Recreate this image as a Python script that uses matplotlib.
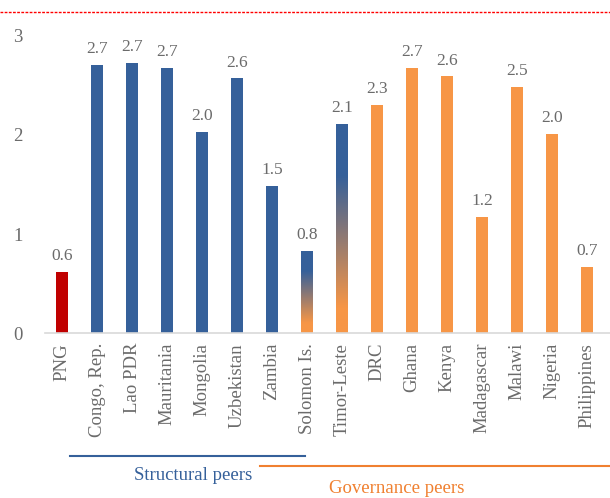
import numpy as np
import matplotlib.pyplot as plt
from matplotlib.colors import LinearSegmentedColormap
from matplotlib.lines import Line2D

countries = ['PNG', 'Congo, Rep.', 'Lao PDR', 'Mauritania', 'Mongolia', 'Uzbekistan',
             'Zambia', 'Solomon Is.', 'Timor-Leste', 'DRC', 'Ghana', 'Kenya',
             'Madagascar', 'Malawi', 'Nigeria', 'Philippines']
values = [0.62, 2.71, 2.73, 2.68, 2.03, 2.57, 1.49, 0.83, 2.11, 2.30, 2.68, 2.59,
          1.17, 2.48, 2.01, 0.67]
groups = ['png', 'struct', 'struct', 'struct', 'struct', 'struct', 'struct',
          'both', 'both', 'gov', 'gov', 'gov', 'gov', 'gov', 'gov', 'gov']
yticks = [0, 1, 2, 3]

blue = '#35609A'
orange = '#F79646'
red = '#C00000'
grey = '#6B6B6B'
colors = {'png': red, 'struct': blue, 'gov': orange, 'both': 'none'}

plt.rcParams['font.family'] = ['Liberation Serif', 'DejaVu Serif']

fig = plt.figure(figsize=(6.1, 4.98), dpi=100)
ax = fig.add_axes([0.074, 0.331, 0.926, 0.597])

x = np.arange(len(countries))
bars = ax.bar(x, values, width=0.34, color=[colors[g] for g in groups], zorder=2)

# gradient bars for countries in both peer groups
cmap = LinearSegmentedColormap.from_list(
    'bo', [(0, orange), (0.12, orange), (0.75, blue), (1, blue)])
grad = np.linspace(0, 1, 256).reshape(-1, 1)
for b, g in zip(bars, groups):
    if g == 'both':
        x0, w, h = b.get_x(), b.get_width(), b.get_height()
        im = ax.imshow(grad, cmap=cmap, origin='lower', aspect='auto',
                       extent=[x0, x0 + w, 0, h], zorder=2)
        im.set_clip_path(b)

for xi, v in zip(x, values):
    ax.text(xi, v + 0.08, f'{v:.1f}', ha='center', va='bottom', fontsize=12.5, color=grey)

ax.set_xlim(-0.486, 15.66)
ax.set_ylim(0, 3)
ax.set_yticks(yticks)
ax.set_yticklabels([str(t) for t in yticks], fontsize=13.5, color=grey)
ax.set_xticks(x)
ax.set_xticklabels(countries, rotation=90, fontsize=13.5, color=grey)
ax.tick_params(length=0, pad=7)
ax.tick_params(axis='y', pad=16)
for s in ['top', 'right', 'left']:
    ax.spines[s].set_visible(False)
ax.spines['bottom'].set_color('#D9D9D9')
ax.spines['bottom'].set_linewidth(1.2)

# group brackets below the labels
fig.add_artist(Line2D([70 / 610, 305 / 610], [1 - 456 / 498] * 2, color=blue, lw=1.5))
fig.add_artist(Line2D([260 / 610, 1.0], [1 - 466 / 498] * 2, color='#F08030', lw=1.5))
fig.text(193 / 610, 1 - 475 / 498, 'Structural peers', color=blue, fontsize=13.5,
         ha='center', va='center')
fig.text(397 / 610, 1 - 488 / 498, 'Governance peers', color='#F08030', fontsize=13.5,
         ha='center', va='center')

# red dashed line along the top
fig.add_artist(Line2D([0, 1], [1 - 12 / 498] * 2, color='red', lw=1, ls=(0, (2, 1))))

plt.savefig('out.png', dpi=100)
